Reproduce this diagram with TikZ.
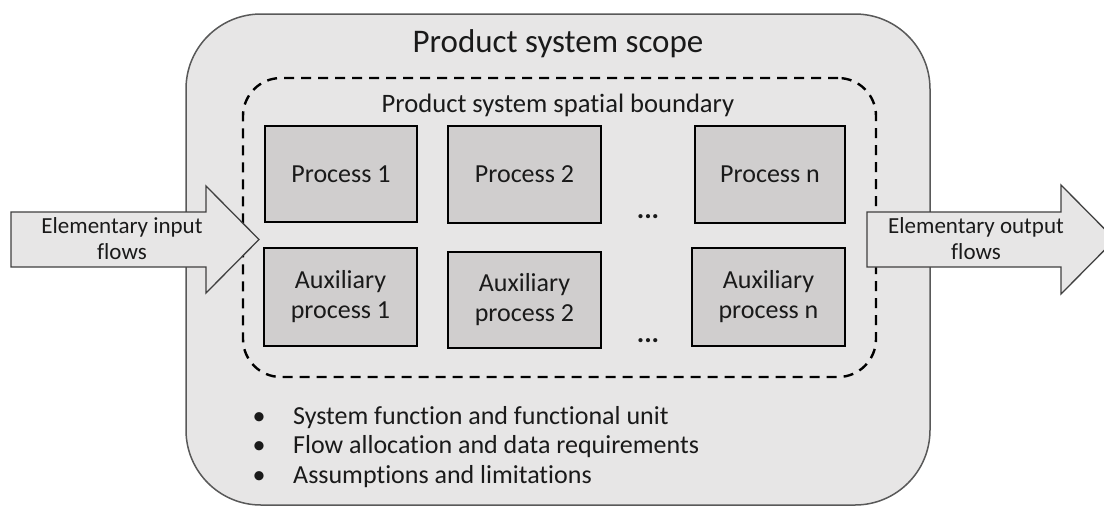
\documentclass[tikz,border=0pt]{standalone}
\usepackage{fontspec}
\setmainfont{Carlito}[Ligatures=NoCommon]
\definecolor{scopefill}{HTML}{E7E6E6}
\definecolor{procfill}{HTML}{D0CECE}
\definecolor{scopeline}{HTML}{595959}
\definecolor{arrowline}{HTML}{404040}
\definecolor{txt}{HTML}{1A1A1A}
\begin{document}
\begin{tikzpicture}[x=1pt,y=-1pt,
  scopebox/.style={draw=scopeline, line width=1.5pt, fill=scopefill, rounded corners=75pt, inner sep=0pt},
  boundbox/.style={draw=black, line width=2.4pt, dash pattern=on 10pt off 7pt, rounded corners=38pt, inner sep=0pt},
  procbox/.style={draw=black, line width=2.4pt, fill=procfill, inner sep=0pt, align=center, text=txt,
    font=\fontsize{26}{30}\selectfont},
  flowarrow/.style={draw=arrowline, line width=1.3pt, fill=scopefill, line join=miter},
  flowtext/.style={text=txt, inner sep=0pt, anchor=base, font=\fontsize{23}{26}\selectfont},
  bodytext/.style={text=txt, inner sep=0pt, font=\fontsize{26}{30}\selectfont},
  dotstext/.style={text=txt, inner sep=0pt, anchor=base, font=\fontsize{28}{30}\selectfont\bfseries}
]
\useasboundingbox (0,0) rectangle (1104,507);
\clip (0,0) rectangle (1104,507);
\fill[white] (0,0) rectangle (1104,507);

% outer scope box
\node[scopebox, minimum width=744pt, minimum height=491pt] (scope) at (558,259.5) {};
\node[bodytext, anchor=base, font=\fontsize{33}{38}\selectfont] (title) at (558,52) {Product system scope};

% spatial boundary
\node[boundbox, minimum width=633pt, minimum height=299pt] (bound) at (559.5,227.5) {};
\node[bodytext, anchor=base, font=\fontsize{26.6}{30}\selectfont] (boundlabel) at (558,112) {Product system spatial boundary};

% processes
\node[procbox, minimum width=152pt, minimum height=96pt] (p1) at (341,174) {Process 1};
\node[procbox, minimum width=153pt, minimum height=97pt] (p2) at (524.5,174.5) {Process 2};
\node[procbox, minimum width=150pt, minimum height=97pt] (pn) at (770,174.5) {Process n};
\node[procbox, minimum width=153pt, minimum height=98pt] (a1) at (340.5,297) {Auxiliary\\process 1};
\node[procbox, minimum width=153pt, minimum height=96pt] (a2) at (524.5,300) {Auxiliary\\process 2};
\node[procbox, minimum width=153pt, minimum height=98pt] (an) at (768.5,297) {Auxiliary\\process n};

\node[dotstext] (dots1) at (648,218) {...};
\node[dotstext] (dots2) at (648,342) {...};

% bullets
\node[bodytext, anchor=base] (b1) at (259,424) {\textbullet};
\node[bodytext, anchor=base] (b2) at (259,453.5) {\textbullet};
\node[bodytext, anchor=base] (b3) at (259,483) {\textbullet};
\node[bodytext, anchor=base west] (l1) at (293,424) {System function and functional unit};
\node[bodytext, anchor=base west] (l2) at (293,453.5) {Flow allocation and data requirements};
\node[bodytext, anchor=base west] (l3) at (293,483) {Assumptions and limitations};

% input arrow
\coordinate (intip) at (259,239.5);
\draw[flowarrow] (11,212) -- (206,212) -- (206,186) -- (intip) -- (206,293) -- (206,267) -- (11,267) -- cycle;
\node[flowtext] (in1) at (122,233) {Elementary input};
\node[flowtext] (in2) at (122,259) {flows};

% output arrow
\coordinate (outtip) at (1115,239.5);
\draw[flowarrow] (867,212) -- (1061,212) -- (1061,185) -- (outtip) -- (1061,294) -- (1061,267) -- (867,267) -- cycle;
\node[flowtext] (out1) at (976,233) {Elementary output};
\node[flowtext] (out2) at (976,259) {flows};
\end{tikzpicture}
\end{document}
